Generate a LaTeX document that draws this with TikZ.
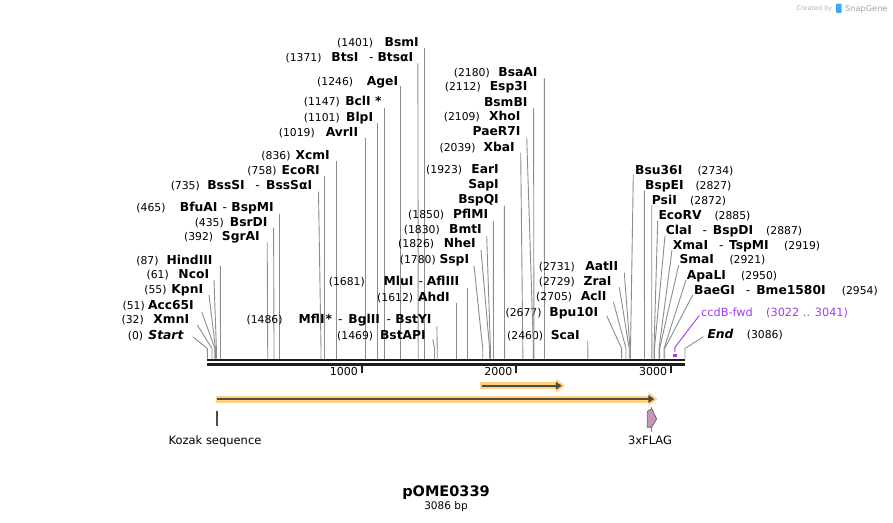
\documentclass[tikz,border=0pt]{standalone}
\usepackage{fontspec}
\setmainfont{DejaVu Sans}
\usetikzlibrary{positioning,arrows.meta}
\definecolor{cutgray}{HTML}{8C8C8C}
\definecolor{seqblack}{HTML}{1E1E1E}
\definecolor{featdark}{HTML}{4F4A44}
\definecolor{feathalo}{HTML}{FFD07E}
\definecolor{flagpink}{HTML}{C994B5}
\definecolor{primerpurple}{HTML}{A03CEB}
\definecolor{logogray}{HTML}{B4B4B4}
\definecolor{logoblue}{HTML}{3FA9F5}
\newcommand{\esep}[2]{\hspace{#1pt}{\mdseries -}\hspace{#2pt}}

\begin{document}
\begin{tikzpicture}[x=1pt,y=-1pt,
    enz/.style={inner sep=0pt,font=\fontsize{12.3}{14}\selectfont\bfseries},
    cutpos/.style={inner sep=0pt,font=\fontsize{10.8}{13}\selectfont},
    cutline/.style={cutgray,line width=0.9pt},
    primer/.style={inner sep=0pt,text=primerpurple,font=\fontsize{11.3}{13}\selectfont},
    primerline/.style={primerpurple,line width=0.9pt},
    backbone/.style={seqblack,line width=2.3pt},
    tickmark/.style={seqblack,line width=1.8pt},
    ticklbl/.style={inner sep=0pt,font=\fontsize{11}{13}\selectfont},
    fhalo/.style={feathalo,line width=7pt,-{Triangle[length=9pt,width=13pt]}},
    fdark/.style={featdark,line width=2.2pt,-{Triangle[length=6pt,width=7.5pt]}},
    flabel/.style={inner sep=0pt,font=\fontsize{11.5}{13}\selectfont},
    mapname/.style={inner sep=0pt,font=\fontsize{14.5}{16}\selectfont\bfseries},
    mapsize/.style={inner sep=0pt,font=\fontsize{10.5}{12}\selectfont}]
\useasboundingbox (0,0) rectangle (893,522);

% Backbone
\coordinate (seqL) at (207,360);
\coordinate (seqR) at (685,360);
\draw[backbone] (seqL) -- (seqR);
\draw[backbone] ([yshift=-4.5pt]seqL) -- ([yshift=-4.5pt]seqR);

% Ruler
\foreach \t/\tx in {1000/361.9,2000/516.3,3000/671.2}
{
    \coordinate (tk\t) at (\tx,365);
    \draw[tickmark] (tk\t) -- ++(0,8);
    \node[ticklbl,anchor=base east] (tl\t) at (\tx-3.8,375.7) {\t};
}

% Sites, labels on the left of their line
\foreach \nm/\ly/\xe/\nx/\num/\txt/\lx/\ty/\sx in {
    bsmI/42/419/373.3/1401/BsmI/424.3/48.3/424.3,
    btsI/57/413.3/321.7/1371/BtsI\esep{10.5}{4}BtsαI/417.9/63.3/418.2,
    ageI/81/398.3/353.3/1246/AgeI/400.7/86/400.7,
    bclI/101/381.7/340/1147/BclI */384.5/108.3/384.5,
    blpI/117/373.3/340/1101/BlpI/377.7/123.3/377.7,
    avrII/132/358.3/315/1019/AvrII/365.5/137.7/365.5,
    xcmI/155/330/290.7/836/XcmI/336.7/160.7/336.7,
    ecoRI/170/320/276.7/758/EcoRI/324.2/175.7/324.2,
    bssSI/185/312.3/200/735/BssSI\esep{10.5}{6.5}BssSαI/318.5/191.7/321,
    bfuAI/207/274/165.7/465/BfuAI\esep{5}{4.5}BspMI/279.7/214/279.7,
    bsrDI/222/267.7/224/435/BsrDI/273.6/227.7/274,
    sgrAI/236/260/213.3/392/SgrAI/267.2/242.3/267.7,
    hindIII/260/212.7/158.7/87/HindIII/220.3/266/220.5,
    ncoI/274.3/209.3/169/61/NcoI/214/280/216.4,
    kpnI/289.3/203.3/166.7/55/KpnI/209/295/215.5,
    acc65I/305/194/145/51/Acc65I/201.7/311.7/214.9,
    xmnI/319.3/189.3/144/32/XmnI/197.3/325/212,
    start/335/184/143.3/0/\textit{Start}/192.7/336.7/207.3,
    mflI/319.3/431.7/282.7/1486/MflI\hspace{1pt}*\esep{6}{6}BglII\esep{6.5}{4.5}BstYI/436.9/326.7/437.2,
    bstAPI/335/426/373.3/1469/BstAPI/432.7/339.3/434.5,
    ahdI/297/450/413.3/1612/AhdI/456.7/302.7/456.7,
    mluI/281/459.5/365/1681/MluI\esep{5}{4}AflIII/467.6/288.3/467.6,
    sspI/259.3/469.3/436/1780/SspI/474/265.7/482.7,
    nheI/243.3/476/434.3/1826/NheI/481/250/489.6,
    bmtI/229.3/482/440/1830/BmtI/486.7/236/490.4,
    pflMI/214.3/488.3/444.3/1850/PflMI/493.3/221/493.5,
    xbaI/147.3/515/475.7/2039/XbaI/520.7/152.7/522.8,
    bsaAI/72.3/537.7/490/2180/BsaAI/544.3/78.3/544.5,
    scaI/335/580/543.3/2460/ScaI/587.7/340.7/587.8,
    bpu10I/312.3/598.3/541.7/2677/Bpu10I/606.7/315.7/621.6,
    aclI/296.7/606.7/572.3/2705/AclI/613.3/301.7/626,
    zraI/281.7/611.7/575/2729/ZraI/619.3/287.3/629.2,
    aatII/266.7/618.3/575/2731/AatII/624.3/272.7/630}
{
    \node[enz,anchor=base east] (\nm) at (\xe,\ly+4) {\txt};
    \node[cutpos,anchor=base east] (\nm-n) at (\nx,\ly+4) {(\num)};
    \coordinate (\nm-t) at (\lx,\ty);
    \coordinate (\nm-b) at (\sx,348.5);
    \coordinate (\nm-s) at (\sx,358.5);
    \draw[cutline] (\nm-t) -- (\nm-b) -- (\nm-s);
}

% Sites with several names on one line
\node[enz,anchor=base east] (earI) at (499,173.5) {EarI};
\node[cutpos,anchor=base east] (earI-n) at (462.3,173.5) {(1923)};
\node[enz,anchor=base east] (sapI) at ([yshift=-15pt]earI.base east) {SapI};
\node[enz,anchor=base east] (bspQI) at ([yshift=-15pt]sapI.base east) {BspQI};
\coordinate (bspQI-t) at (504.3,205.7);
\coordinate (bspQI-s) at (504.6,358.5);
\draw[cutline] (bspQI-t) -- (bspQI-s);

\node[enz,anchor=base east] (xhoI) at (520.7,120.7) {XhoI};
\node[cutpos,anchor=base east] (xhoI-n) at (480,120.7) {(2109)};
\node[enz,anchor=base east] (paeR7I) at ([yshift=-15pt]xhoI.base east) {PaeR7I};
\coordinate (paeR7I-t) at (526.7,137.3);
\coordinate (paeR7I-b) at (533.4,348.5);
\coordinate (paeR7I-s) at (533.4,358.5);
\draw[cutline] (paeR7I-t) -- (paeR7I-b) -- (paeR7I-s);

\node[enz,anchor=base east] (esp3I) at (527.7,90.7) {Esp3I};
\node[cutpos,anchor=base east] (esp3I-n) at (481,90.7) {(2112)};
\node[enz,anchor=base east] (bsmBI) at ([yshift=-15.6pt]esp3I.base east) {BsmBI};
\coordinate (bsmBI-t) at (533.6,108.3);
\coordinate (bsmBI-s) at (533.9,358.5);
\draw[cutline] (bsmBI-t) -- (bsmBI-s);

% Sites, labels on the right of their line
\foreach \nm/\ly/\xw/\nx/\num/\txt/\lx/\ty/\sx in {
    bsu36I/170/635/697.3/2734/Bsu36I/633.3/175/630.5,
    bspEI/185/645/695.3/2827/BspEI/644.3/190.7/644.5,
    psiI/200/651.7/690/2872/PsiI/651.7/205.7/651.8,
    ecoRV/215/658.3/714.3/2885/EcoRV/657.7/220.7/654,
    claI/230/665.7/766/2887/ClaI\esep{10.5}{6}BspDI/665/235.7/654.5,
    xmaI/245/672.7/784/2919/XmaI\esep{11}{5.5}TspMI/672/250/659,
    smaI/259.5/679.3/729.3/2921/SmaI/678.7/265/659.6,
    apaLI/275/686.7/741/2950/ApaLI/686/280/664,
    baeGI/290/694/841.7/2954/BaeGI\esep{11}{6}Bme1580I/692.7/295/664.7,
    endS/334.5/707.3/746.7/3086/\textit{End}/703.3/336.7/685}
{
    \node[enz,anchor=base west] (\nm) at (\xw,\ly+4) {\txt};
    \node[cutpos,anchor=base west] (\nm-n) at (\nx,\ly+4) {(\num)};
    \coordinate (\nm-t) at (\lx,\ty);
    \coordinate (\nm-b) at (\sx,348.5);
    \coordinate (\nm-s) at (\sx,358.5);
    \draw[cutline] (\nm-t) -- (\nm-b) -- (\nm-s);
}

% Primer
\node[primer,anchor=base west] (ccdB) at (701,316) {ccdB-fwd};
\node[primer,anchor=base west] (ccdB-n) at (766,316) {(3022 .. 3041)};
\coordinate (ccdB-t) at (699.3,315.5);
\coordinate (ccdB-b) at (674.9,347.3);
\coordinate (ccdB-s) at (674.9,352);
\draw[primerline] (ccdB-t) -- (ccdB-b) -- (ccdB-s);
\fill[primerpurple] (673.2,354.3) rectangle (676.6,356.5);

% Features
\coordinate (orf1s) at (480,385.7);
\coordinate (orf1e) at (565,385.7);
\coordinate (orf1a) at (481.5,385.7);
\coordinate (orf1b) at (561.8,385.7);
\draw[fhalo] (orf1s) -- (orf1e);
\draw[fdark] (orf1a) -- (orf1b);

\coordinate (orf2s) at (215.5,399);
\coordinate (orf2e) at (657.5,399);
\coordinate (orf2a) at (217,399);
\coordinate (orf2b) at (654.3,399);
\draw[fhalo] (orf2s) -- (orf2e);
\draw[fdark] (orf2a) -- (orf2b);

\coordinate (koz-t) at (216.8,410.7);
\coordinate (koz-b) at (216.8,426);
\draw[featdark,line width=2pt] (koz-t) -- (koz-b);
\node[flabel,anchor=base] (kozak) at (215,444) {Kozak sequence};

\coordinate (flag-t) at (651.7,406.5);
\coordinate (flag-b) at (651.7,431.5);
\draw[gray,line width=0.7pt] (flag-t) -- (flag-b);
\filldraw[fill=flagpink,draw=gray!80!black,line width=0.7pt]
    (647.3,411.5) -- (651.7,408.5) -- (656.7,419) -- (651.7,427.3) -- (647.3,427.3) -- cycle;
\node[flabel,anchor=base] (flag) at (650,444) {3xFLAG};

% Name and size
\node[mapname,anchor=base] (title) at (446,496.7) {pOME0339};
\node[mapsize,below=1.5pt of title] (bp) {3086 bp};

% Watermark
\node[inner sep=0pt,text=logogray,font=\fontsize{6.5}{8}\selectfont,anchor=base east] (made) at (832.5,10) {Created by};
\fill[logoblue,rounded corners=1pt] (836,3.5) rectangle (841.5,13);
\node[inner sep=0pt,text=logogray!90!black,font=\fontsize{8.2}{10}\selectfont,anchor=base west] (snap) at (845,11) {SnapGene};
\end{tikzpicture}
\end{document}
